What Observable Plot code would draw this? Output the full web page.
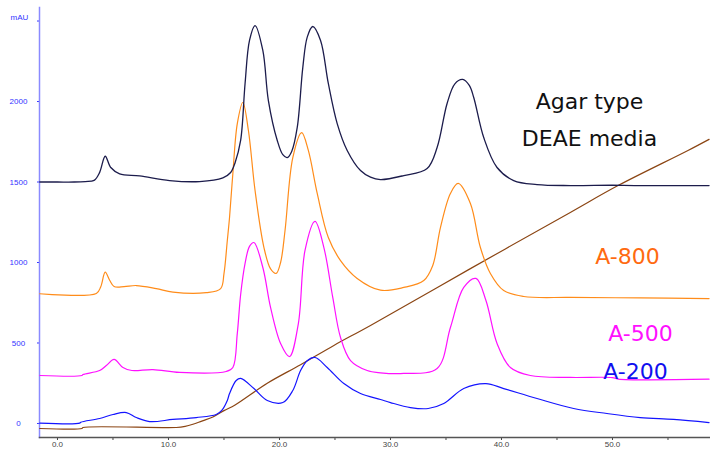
<!DOCTYPE html>
<html><head><meta charset="utf-8">
<script src="https://cdn.jsdelivr.net/npm/d3@7"></script>
<script src="https://cdn.jsdelivr.net/npm/@observablehq/plot@0.6"></script>
<style>body{margin:0;background:#fff} #chart svg{display:block}</style>
</head><body><div id="chart"></div>
<script>
// retention time (min) / absorbance (mAU) pairs
const topTrace = [
  [-1.6,1500],[0,1500],[1.5,1500],[2.5,1503],[3.3,1510],[3.8,1560],[4.3,1660],[4.8,1590],[5.6,1551],
  [7.4,1538],[10.1,1509],[12.8,1503],[14.9,1526],[15.6,1559],[16.0,1620],[16.5,1758],[16.9,2112],
  [17.3,2380],[17.8,2472],[18.5,2317],[19.0,2006],[19.8,1758],[20.3,1670],[20.7,1652],[21.1,1690],
  [21.6,1839],[22.1,2211],[22.5,2400],[23.0,2466],[23.7,2379],[24.4,2112],[25.2,1863],[26.1,1696],
  [27.3,1571],[28.2,1530],[29.1,1515],[31.2,1540],[33.3,1584],[34.2,1714],[35.1,1988],[35.8,2110],
  [36.5,2137],[37.1,2100],[37.5,2025],[38.4,1776],[39.6,1590],[41.1,1509],[43.2,1484],[46.2,1478],
  [50,1480],[52,1478],[58.7,1478]
];
const a800 = [
  [-1.6,806],[3.5,808],[3.9,850],[4.3,940],[4.7,890],[5.1,851],[6.0,850],[7.1,857],[8.9,838],
  [10.4,816],[13.4,813],[14.7,838],[15.0,931],[15.3,1137],[15.5,1280],[15.8,1553],[16.2,1863],
  [16.7,1994],[17.2,1820],[17.8,1447],[18.6,1093],[19.2,960],[19.7,932],[20.1,1000],[20.5,1199],
  [21.2,1652],[22.0,1807],[22.6,1696],[23.4,1429],[24.4,1155],[25.5,1012],[27.0,901],[29.1,828],
  [31.2,845],[33.0,888],[33.8,980],[34.5,1217],[35.4,1429],[36.1,1491],[37.2,1366],[38.1,1093],
  [39.0,932],[40.2,826],[42.0,789],[46.2,783],[52.5,780],[58.7,776]
];
const a500 = [
  [-1.6,298],[2.2,298],[2.3,304],[3.8,329],[4.4,360],[5.1,398],[5.9,348],[6.7,329],[8.6,335],
  [11.0,317],[15.2,323],[15.8,348],[16.2,560],[16.5,800],[16.9,994],[17.3,1100],[17.7,1124],
  [18.5,969],[19.2,720],[20.1,497],[20.9,416],[21.7,621],[22.3,1075],[23.2,1255],[24.0,1093],
  [24.8,783],[25.5,534],[26.4,391],[27.9,329],[29.1,315],[31.2,311],[34.2,342],[35.4,596],
  [36.6,845],[37.7,901],[38.6,764],[39.6,497],[40.8,348],[42.6,298],[46.2,286],[50.0,285],
  [50.5,276],[58.7,275]
];
const a200 = [
  [-1.6,2],[2.0,2],[2.1,8],[3.8,31],[5.0,56],[6.2,68],[7.1,37],[8.3,12],[10.4,25],[12.5,37],
  [14.3,56],[14.8,81],[15.3,143],[15.5,186],[16.1,267],[16.5,280],[17.7,217],[18.9,143],[20.3,130],
  [21.2,205],[21.9,329],[22.5,390],[23.2,410],[24.3,348],[25.8,248],[27.3,186],[29.1,149],[30.0,130],
  [31.8,99],[33.4,93],[34.8,124],[36.6,217],[38.6,248],[40.2,217],[43.2,155],[46.5,93],[49.5,62],
  [52.5,37],[55.5,25],[58.7,6]
];
const gradient = [
  [-1.6,-31],[2.2,-31],[2.3,-25],[10.7,-25],[11.5,-18],[12.2,-5],[13,15],[14,40],[15,80],[16,115],
  [18.9,250],[21.9,365],[24.9,485],[28.2,609],[37.2,962],[46.2,1311],[50.5,1478],[56.8,1696],[58.7,1765]
];
const yTicks = [0,500,1000,1500,2000,2500];
const xTicks = [0,5,10,15,20,25,30,35,40,45,50,55];
const xDomain = [-1.62, 58.74];
const yDomain = [-87, 2584];

const rows = pts => pts.map(([t, v]) => ({t, v}));
const line = (pts, color, w) => Plot.line(rows(pts), {x:"t", y:"v", stroke:color, strokeWidth:w, curve:"catmull-rom"});
const label = (txt, color, dx, dy, extra={}) => Plot.text([txt], {text:d=>d, frameAnchor:"top-left", dx, dy, fill:color,
  fontSize:22, fontFamily:"'DejaVu Sans', Verdana, sans-serif", textAnchor:"middle", lineAnchor:"bottom", ...extra});

const chart = Plot.plot({
  width:710, height:450, marginLeft:39, marginRight:1, marginTop:7, marginBottom:13,
  style:{fontFamily:"'Liberation Sans', Arial, sans-serif", background:"#fff"},
  x:{domain:xDomain},
  y:{domain:yDomain},
  marks:[
    Plot.axisY({ticks:yTicks, tickSize:2, tickFormat:() => "", color:"#3333ff", label:null}),
    Plot.axisY({ticks:yTicks, tickSize:0, tickPadding:3, tickFormat:d => d===2500 ? "" : String(d),
      color:"#3333ff", textAnchor:"middle", dx:-18, fontSize:8, label:null}),
    Plot.axisX({ticks:xTicks, tickSize:3, tickPadding:1, tickFormat:d => d%10===0 ? d.toFixed(1) : "",
      color:"#444", fontSize:8, label:null}),
    Plot.frame({anchor:"left", stroke:"#8a8aff", strokeWidth:1.5}),
    Plot.frame({anchor:"bottom", stroke:"#555", strokeWidth:1.5}),
    Plot.text(["mAU"], {text:d=>d, frameAnchor:"top-left", dx:-20, dy:7, fill:"#3333ff", fontSize:8, textAnchor:"middle"}),
    line(gradient, "#8b4513", 1.2),
    line(a200, "#1414ff", 1.2),
    line(a500, "#ff10ff", 1.2),
    line(a800, "#ff8c1a", 1.2),
    line(topTrace, "#1c1c4c", 1.3),
    label("Agar type", "#111", 550, 101, {letterSpacing:"0.8px"}),
    label("DEAE media", "#111", 550, 138, {letterSpacing:"0.5px"}),
    label("A-800", "#ff6a10", 588, 256),
    label("A-500", "#ff10ff", 601, 333),
    label("A-200", "#1010ee", 596, 371)
  ]
});
document.getElementById("chart").appendChild(chart);
</script>
</body></html>
